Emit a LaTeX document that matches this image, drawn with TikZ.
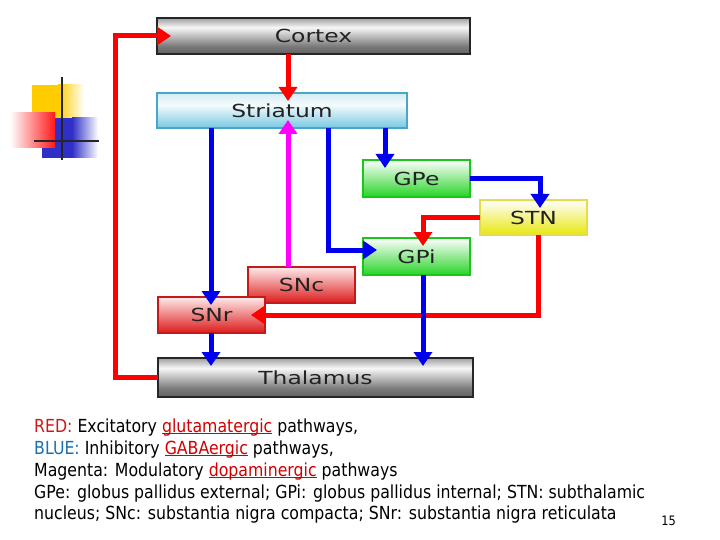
\documentclass[tikz,border=0pt]{standalone}
\usepackage{fontspec}
\setmainfont{DejaVu Sans}[FakeStretch=0.875]
\newfontfamily\labelfont{DejaVu Sans}[FakeStretch=1.3]
\usetikzlibrary{arrows.meta}
\definecolor{exc}{HTML}{FF0000}
\definecolor{inh}{HTML}{0000F0}
\definecolor{mod}{HTML}{FF00FF}
\definecolor{redlab}{HTML}{D01818}
\definecolor{bluelab}{HTML}{1A6FAF}
\definecolor{ulred}{HTML}{D00000}
\definecolor{decoY}{HTML}{FFCC00}
\definecolor{decoB}{HTML}{3030C8}
\definecolor{txt}{HTML}{222222}
\definecolor{cyTop}{HTML}{D4ECF4}
\definecolor{cyMid}{HTML}{F4FBFD}
\definecolor{cyBot}{HTML}{78C8E2}
\definecolor{cyLine}{HTML}{4AA6C8}
\pgfdeclareverticalshading{grayshade}{100bp}{color(0bp)=(black!62); color(25bp)=(black!62); color(36bp)=(black!52); color(62bp)=(black!3); color(75bp)=(black!38); color(100bp)=(black!38)}
\pgfdeclareverticalshading{cyanshade}{100bp}{color(0bp)=(cyBot); color(25bp)=(cyBot); color(58bp)=(cyMid); color(75bp)=(cyTop); color(100bp)=(cyTop)}
\newcommand\myul[1]{\setbox0\hbox{#1}\rlap{\rule[-2.4pt]{\wd0}{1.3pt}}\box0}
\begin{document}
\begin{tikzpicture}[x=1pt,y=-1pt,
  boxbase/.style={rectangle, inner sep=0pt, outer sep=0pt, line width=2pt,
    font=\labelfont\fontsize{18}{20}\selectfont, text=txt},
  graybox/.style={boxbase, draw=black!85, shading=grayshade},
  cyanbox/.style={boxbase, draw=cyLine, shading=cyanshade},
  greenbox/.style={boxbase, draw=green!75!black!90, top color=white, bottom color=green!80!black!85},
  yellowbox/.style={boxbase, draw=yellow!85!black!80, top color=white, bottom color=yellow!90!black!95},
  redbox/.style={boxbase, draw=red!75!black!90!white, top color=red!8, bottom color=red!85!black!90},
  conn/.style={line width=5pt, -{Triangle[width=18pt,length=14pt]}},
  vshort/.style={shorten >=-8pt},
  hshort/.style={shorten >=-14pt},
  legend/.style={anchor=base west, inner sep=0pt, font=\fontsize{18}{21}\selectfont, text=black}
]
\useasboundingbox (0,0) rectangle (720,540);

% decorative squares
\fill[decoY] (32,85) rectangle (58,120);
\shade[left color=decoY, right color=white] (58,85) rectangle (84,120);
\fill[decoB] (42,118) rectangle (72,158);
\shade[left color=decoB, right color=white] (72,118) rectangle (98,158);
\shade[left color=white, right color=red!90] (10,113) rectangle (55,148);
\draw[line width=2.5pt, black!85] (62,77) -- (62,160);
\draw[line width=2.5pt, black!85] (34,141) -- (99,141);

% column / row helpers
\coordinate (cA) at (211,0);
\coordinate (cB) at (288,0);
\coordinate (cC) at (328,0);
\coordinate (cD) at (385,0);
\coordinate (cE) at (540,0);
\coordinate (cF) at (423,0);
\coordinate (cG) at (538,0);
\coordinate (cL) at (115,0);
\coordinate (rGPi) at (0,250);

% boxes
\node[graybox, minimum width=313, minimum height=36] (Cortex) at (313.5,36) {Cortex};
\node[cyanbox, minimum width=250, minimum height=35] (Striatum) at (282,110.5) {Striatum};
\node[greenbox, minimum width=107, minimum height=37] (GPe) at (416.5,178.5) {GPe};
\node[yellowbox, minimum width=107, minimum height=35] (STN) at (533.5,217.5) {STN};
\node[greenbox, minimum width=107, minimum height=37] (GPi) at (416.5,256.5) {GPi};
\node[redbox, minimum width=107, minimum height=36] (SNc) at (301.5,285) {SNc};
\node[redbox, minimum width=107, minimum height=36] (SNr) at (211.5,315) {SNr};
\node[graybox, minimum width=315, minimum height=39] (Thalamus) at (315.5,377.5) {Thalamus};

% excitatory (red)
\draw[conn, exc, vshort] (Cortex.south -| cB) -- (Striatum.north -| cB);
\draw[conn, exc, hshort] (Thalamus.west) -- (Thalamus.west -| cL) -- (Cortex.west -| cL) -- (Cortex.west);
\draw[conn, exc, vshort] (STN.west) -| (GPi.north -| cF);
\draw[conn, exc, hshort] (STN.south -| cG) |- (SNr.east);

% inhibitory (blue)
\draw[conn, inh, vshort] (Striatum.south -| cA) -- (SNr.north -| cA);
\draw[conn, inh, vshort] (Striatum.south -| cD) -- (GPe.north -| cD);
\draw[conn, inh, hshort] (Striatum.south -| cC) |- (GPi.west |- rGPi);
\draw[conn, inh, vshort] (GPe.east) -| (STN.north -| cE);
\draw[conn, inh, vshort] (SNr.south -| cA) -- (Thalamus.north -| cA);
\draw[conn, inh, vshort] (GPi.south -| cF) -- (Thalamus.north -| cF);

% modulatory (magenta)
\draw[conn, mod, vshort] (SNc.north -| cB) -- (Striatum.south -| cB);

% legend
\node[legend] (l1) at (34,432) {\textcolor{redlab}{RED:} Excitatory \textcolor{ulred}{\myul{glutamatergic}} pathways,};
\node[legend] (l2) at (34,454) {\textcolor{bluelab}{BLUE:} Inhibitory \textcolor{ulred}{\myul{GABAergic}} pathways,};
\node[legend] (l3) at (34,476) {Magenta: Modulatory \textcolor{ulred}{\myul{dopaminergic}} pathways};
\node[legend] (l4) at (34,498) {GPe: globus pallidus external; GPi: globus pallidus internal; STN: subthalamic};
\node[legend] (l5) at (34,519) {nucleus; SNc: substantia nigra compacta; SNr: substantia nigra reticulata};
\node[anchor=base east, inner sep=0pt, font=\fontsize{13}{15}\selectfont] (pg) at (676,525) {15};
\end{tikzpicture}
\end{document}
